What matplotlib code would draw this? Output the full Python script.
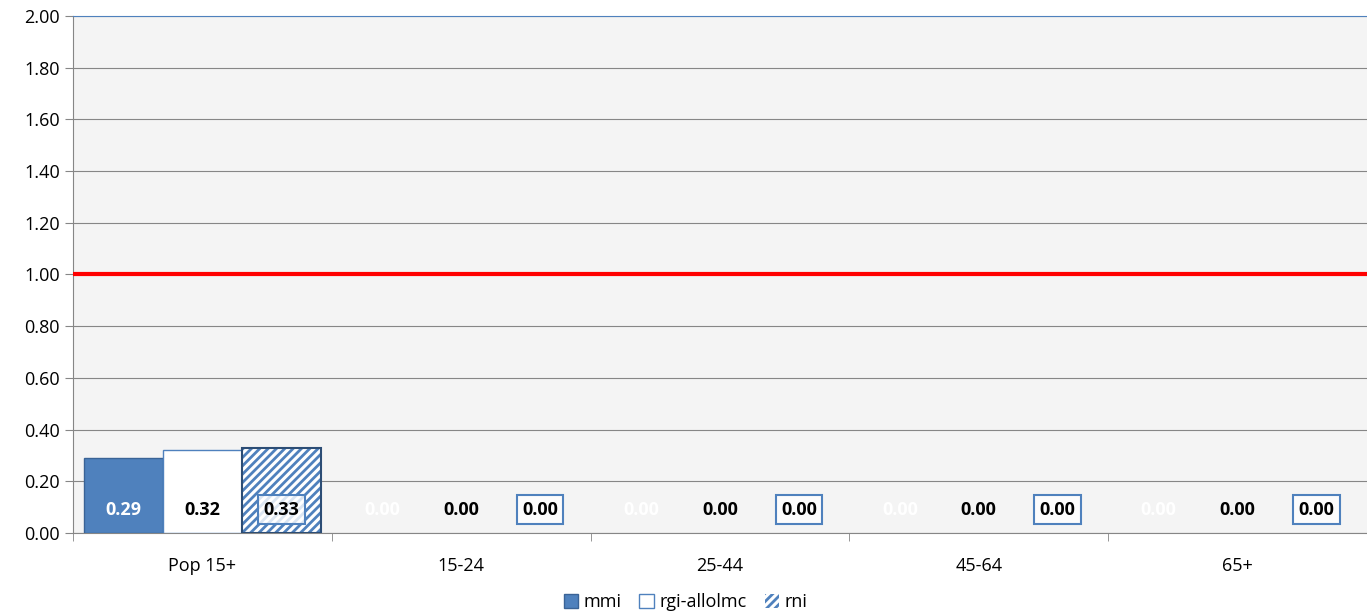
import numpy as np
import matplotlib.pyplot as plt

plt.rcParams['font.family'] = ['Open Sans', 'DejaVu Sans']
plt.rcParams['hatch.linewidth'] = 2.0

categories = ['Pop 15+', '15-24', '25-44', '45-64', '65+']
mmi = [0.29, 0.00, 0.00, 0.00, 0.00]
rgi = [0.32, 0.00, 0.00, 0.00, 0.00]
rni = [0.33, 0.00, 0.00, 0.00, 0.00]
ref_line = [1.0, 1.0]

fig = plt.figure(figsize=(13.67, 6.12), dpi=100)
ax = fig.add_axes([0.0534, 0.129, 0.9466, 0.845])
ax.set_facecolor('#f4f4f4')

x = np.arange(len(categories))
w = 0.305
lw1 = [1 if v > 0 else 0 for v in mmi]
lw2 = [1 if v > 0 else 0 for v in rgi]
b1 = ax.bar(x - w, mmi, w, color='#4f81bd', edgecolor='#3a6396', linewidth=lw1, zorder=3, label='mmi')
b2 = ax.bar(x, rgi, w, color='white', edgecolor='#4f81bd', linewidth=lw2, zorder=3, label='rgi-allolmc')
b3 = ax.bar(x + w, rni, w, color='white', edgecolor='#4f81bd', hatch='////', linewidth=0, zorder=3, label='rni')
for r in b3:
    if r.get_height() > 0:
        ax.add_patch(plt.Rectangle(r.get_xy(), r.get_width(), r.get_height(), fill=False,
                                   edgecolor='#2c4d75', linewidth=1.5, zorder=4))

ax.plot([-0.5, len(categories) - 0.5], ref_line, color='red', linewidth=3, zorder=5)

ylab = 0.09
fs = 13
for i in range(len(categories)):
    ax.text(x[i] - w, ylab, f'{mmi[i]:.2f}', ha='center', va='center', color='white',
            fontsize=fs, fontweight='bold', zorder=6)
    ax.text(x[i], ylab, f'{rgi[i]:.2f}', ha='center', va='center', color='black',
            fontsize=fs, fontweight='bold', zorder=6)
    ax.text(x[i] + w, ylab, f'{rni[i]:.2f}', ha='center', va='center', color='black',
            fontsize=fs, fontweight='bold', zorder=6,
            bbox=dict(boxstyle='square,pad=0.3', facecolor=(1, 1, 1, 0.8), edgecolor='#4f81bd', linewidth=1.5))

ax.set_xlim(-0.5, len(categories) - 0.5)
ax.set_ylim(0, 2.0)
ax.set_yticks(np.arange(0, 2.01, 0.2))
ax.set_yticklabels([f'{v:.2f}' for v in np.arange(0, 2.01, 0.2)], fontsize=fs)
ax.yaxis.grid(True, color='#868686', linewidth=0.8, zorder=0)

ax.set_xticks(x)
ax.set_xticklabels(categories, fontsize=fs)
ax.tick_params(axis='x', length=0, pad=17)
ax.set_xticks(np.arange(-0.5, len(categories)), minor=True)
ax.tick_params(axis='x', which='minor', length=6, color='#868686')
ax.tick_params(axis='y', length=6, color='#868686')

for s in ['right']:
    ax.spines[s].set_visible(False)
ax.spines['top'].set_color('#4f81bd')
ax.spines['left'].set_color('#868686')
ax.spines['bottom'].set_color('#868686')

ax.legend(loc='upper center', bbox_to_anchor=(0.5 - 0.0534 / 2, -0.095), ncol=3, frameon=False,
          fontsize=fs, handlelength=0.8, handleheight=0.8, handletextpad=0.3, columnspacing=1.0,
          borderaxespad=0.2)

fig.savefig('out.png', dpi=100)
